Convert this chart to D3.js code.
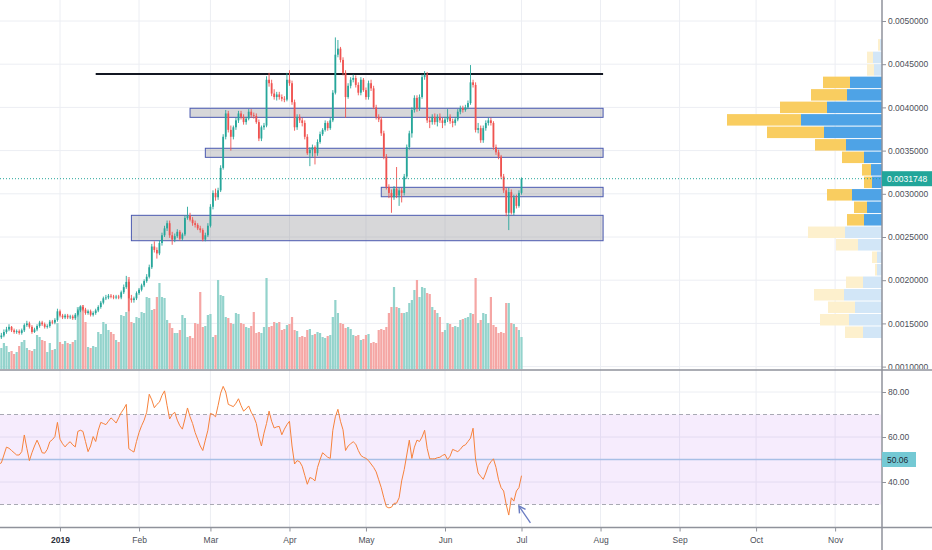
<!DOCTYPE html>
<html>
<head>
<meta charset="utf-8">
<style>
  body { margin: 0; background: #fff; }
  text { font-family: "Liberation Sans", Arial, sans-serif; }
</style>
</head>
<body>
<svg id="chart" width="932" height="550"></svg>
<script src="https://cdn.jsdelivr.net/npm/d3@7"></script>
<script>
// daily candles from 8 Dec 2018, prices in units of 0.0001
const startDate = new Date(2018, 11, 8);

const opens = [
  13.3, 13.4, 13.6, 14.0, 14.3, 14.6, 14.2, 14.0, 14.1, 13.9,
  14.2, 14.8, 15.0, 14.6, 14.0, 14.3, 14.7, 15.1, 14.9, 14.6,
  14.7, 15.2, 15.1, 15.4, 16.4, 15.9, 15.7, 15.9, 15.7, 15.8,
  15.6, 16.0, 16.5, 16.9, 16.6, 16.2, 16.4, 16.0, 16.2, 16.5,
  16.9, 17.4, 17.9, 18.0, 18.2, 18.1, 18.0, 18.1, 18.0, 18.6,
  19.2, 19.8, 17.9, 17.7, 17.9, 18.5, 18.9, 19.4, 19.9, 20.4,
  21.5, 23.9, 23.5, 23.1, 24.3, 25.2, 26.0, 26.6, 25.2, 24.7,
  25.1, 25.6, 24.8, 25.3, 27.2, 27.5, 27.0, 26.6, 26.4, 26.0,
  25.8, 24.7, 25.2, 26.3, 28.5, 30.1, 29.6, 30.4, 33.0, 36.6,
  39.3, 37.4, 36.6, 37.7, 38.5, 39.3, 38.9, 38.3, 38.7, 39.5,
  39.1, 39.0, 38.3, 36.4, 37.7, 37.9, 43.2, 42.8, 41.6, 41.2,
  41.5, 41.2, 41.0, 40.9, 43.2, 42.8, 40.6, 37.7, 38.9, 38.5,
  38.2, 36.6, 34.7, 35.1, 35.4, 34.7, 36.0, 36.9, 37.4, 38.2,
  37.6, 38.5, 41.7, 46.1, 46.8, 45.5, 44.0, 41.2, 42.5, 43.2,
  43.4, 42.6, 41.7, 43.2, 42.0, 41.2, 42.8, 42.2, 40.0, 38.9,
  38.6, 37.0, 34.3, 30.8, 30.1, 29.6, 30.6, 29.8, 30.4, 30.1,
  32.0, 35.4, 37.0, 39.7, 41.1, 39.9, 41.2, 43.5, 43.8, 38.5,
  38.3, 38.9, 38.3, 38.9, 38.5, 38.2, 38.6, 38.9, 38.4, 38.2,
  38.6, 39.5, 39.9, 39.7, 40.0, 40.5, 42.9, 42.6, 37.4, 37.6,
  36.2, 37.6, 38.2, 38.5, 38.2, 35.4, 34.8, 34.3, 32.0, 30.4,
  27.8, 30.2, 27.8, 29.6, 28.6, 30.1
];
const highs = [
  13.8, 13.9, 14.3, 14.6, 14.9, 14.7, 14.4, 14.3, 14.3, 14.4,
  15.0, 15.3, 15.2, 14.8, 14.5, 14.9, 15.3, 15.3, 15.1, 14.9,
  15.4, 15.4, 15.6, 16.7, 16.6, 16.1, 16.1, 16.1, 16.0, 16.0,
  16.2, 16.7, 17.1, 17.1, 16.8, 16.6, 16.6, 16.4, 16.7, 17.1,
  17.6, 18.1, 18.3, 18.4, 18.4, 18.3, 18.3, 18.3, 18.8, 19.5,
  20.5, 20.1, 18.3, 18.1, 18.7, 19.1, 19.6, 20.1, 20.7, 21.8,
  24.2, 24.5, 23.8, 24.6, 25.5, 26.3, 26.9, 26.9, 25.6, 25.4,
  25.9, 25.8, 25.5, 27.5, 28.5, 27.8, 27.3, 26.9, 26.6, 26.3,
  26.0, 25.5, 26.6, 28.8, 30.4, 30.6, 30.7, 33.3, 36.9, 39.7,
  39.6, 37.9, 37.9, 38.8, 39.6, 39.6, 39.2, 38.9, 39.8, 39.8,
  39.4, 39.3, 38.6, 37.9, 38.2, 43.6, 44.0, 43.2, 42.1, 41.8,
  41.8, 41.5, 41.3, 44.0, 44.3, 43.1, 40.9, 39.2, 39.2, 38.8,
  38.5, 36.9, 35.4, 35.7, 35.6, 36.3, 37.2, 37.6, 38.5, 38.4,
  38.8, 42.0, 48.1, 47.8, 47.0, 45.8, 44.3, 42.8, 43.5, 43.8,
  43.7, 42.9, 43.5, 43.4, 42.3, 43.1, 43.2, 42.5, 40.3, 39.2,
  38.9, 37.3, 34.6, 31.1, 30.5, 30.9, 33.1, 30.7, 30.7, 32.3,
  35.7, 37.3, 40.0, 41.4, 41.4, 41.5, 43.8, 44.2, 44.1, 38.9,
  39.2, 39.3, 39.2, 39.3, 38.8, 38.9, 39.8, 39.2, 38.7, 38.9,
  39.8, 40.2, 40.2, 40.3, 40.8, 44.9, 43.2, 42.9, 38.2, 37.9,
  37.9, 38.5, 38.8, 38.8, 38.4, 35.7, 35.1, 34.5, 32.3, 30.7,
  30.7, 30.5, 29.9, 29.9, 30.4, 31.9
];
const lows = [
  13.1, 13.2, 13.4, 13.8, 14.1, 14.0, 13.8, 13.8, 13.7, 13.7,
  14.0, 14.6, 14.4, 13.8, 13.9, 14.1, 14.5, 14.7, 14.4, 14.4,
  14.5, 14.9, 14.9, 15.2, 15.7, 15.5, 15.5, 15.5, 15.5, 15.4,
  15.4, 15.8, 16.3, 16.4, 16.0, 16.0, 15.8, 15.8, 16.0, 16.3,
  16.7, 17.2, 17.7, 17.8, 17.9, 17.8, 17.8, 17.8, 17.8, 18.4,
  19.0, 16.4, 17.4, 17.4, 17.7, 18.3, 18.7, 19.2, 19.7, 20.2,
  21.3, 23.2, 22.5, 22.9, 24.0, 25.0, 25.7, 24.9, 24.1, 24.4,
  24.9, 24.6, 24.6, 25.1, 27.0, 26.8, 26.3, 26.1, 25.8, 25.5,
  24.5, 24.5, 25.0, 26.1, 28.2, 29.2, 29.3, 30.2, 32.8, 36.3,
  37.1, 35.0, 36.3, 37.4, 38.2, 38.6, 38.0, 38.0, 38.5, 38.8,
  38.7, 38.1, 36.1, 36.1, 37.4, 37.7, 42.4, 41.3, 40.9, 40.8,
  40.9, 40.7, 40.6, 40.7, 42.5, 40.3, 37.3, 37.4, 38.2, 37.8,
  36.3, 34.5, 33.2, 34.3, 33.4, 34.4, 35.8, 36.7, 37.2, 37.3,
  37.4, 38.3, 41.5, 45.8, 45.2, 43.7, 38.8, 41.0, 42.2, 42.9,
  42.3, 41.4, 41.4, 41.8, 40.9, 40.9, 41.9, 39.8, 38.6, 38.3,
  36.7, 34.0, 30.5, 29.5, 27.8, 29.3, 29.5, 28.6, 29.0, 29.8,
  31.7, 35.1, 36.5, 39.4, 39.5, 39.6, 41.0, 43.2, 38.2, 37.6,
  38.0, 38.0, 37.8, 38.2, 37.6, 37.9, 38.3, 38.1, 37.7, 37.9,
  38.4, 39.2, 39.4, 39.5, 39.8, 40.3, 42.3, 37.1, 37.0, 35.9,
  35.9, 37.3, 37.9, 37.9, 35.1, 34.5, 34.0, 31.7, 30.1, 27.4,
  25.8, 27.6, 27.5, 28.3, 28.4, 29.9
];
const closes = [
  13.4, 13.6, 14.0, 14.3, 14.6, 14.2, 14.0, 14.1, 13.9, 14.2,
  14.8, 15.0, 14.6, 14.0, 14.3, 14.7, 15.1, 14.9, 14.6, 14.7,
  15.2, 15.1, 15.4, 16.4, 15.9, 15.7, 15.9, 15.7, 15.8, 15.6,
  16.0, 16.5, 16.9, 16.6, 16.2, 16.4, 16.0, 16.2, 16.5, 16.9,
  17.4, 17.9, 18.0, 18.2, 18.1, 18.0, 18.1, 18.0, 18.6, 19.2,
  19.8, 17.9, 17.7, 17.9, 18.5, 18.9, 19.4, 19.9, 20.4, 21.5,
  23.9, 23.5, 23.1, 24.3, 25.2, 26.0, 26.6, 25.2, 24.7, 25.1,
  25.6, 24.8, 25.3, 27.2, 27.5, 27.0, 26.6, 26.4, 26.0, 25.8,
  24.7, 25.2, 26.3, 28.5, 30.1, 29.6, 30.4, 33.0, 36.6, 39.3,
  37.4, 36.6, 37.7, 38.5, 39.3, 38.9, 38.3, 38.7, 39.5, 39.1,
  39.0, 38.3, 36.4, 37.7, 37.9, 43.2, 42.8, 41.6, 41.2, 41.5,
  41.2, 41.0, 40.9, 43.2, 42.8, 40.6, 37.7, 38.9, 38.5, 38.2,
  36.6, 34.7, 35.1, 35.4, 34.7, 36.0, 36.9, 37.4, 38.2, 37.6,
  38.5, 41.7, 46.1, 46.8, 45.5, 44.0, 41.2, 42.5, 43.2, 43.4,
  42.6, 41.7, 43.2, 42.0, 41.2, 42.8, 42.2, 40.0, 38.9, 38.6,
  37.0, 34.3, 30.8, 30.1, 29.6, 30.6, 29.8, 30.4, 30.1, 32.0,
  35.4, 37.0, 39.7, 41.1, 39.9, 41.2, 43.5, 43.8, 38.5, 38.3,
  38.9, 38.3, 38.9, 38.5, 38.2, 38.6, 38.9, 38.4, 38.2, 38.6,
  39.5, 39.9, 39.7, 40.0, 40.5, 42.9, 42.6, 37.4, 37.6, 36.2,
  37.6, 38.2, 38.5, 38.2, 35.4, 34.8, 34.3, 32.0, 30.4, 27.8,
  30.2, 27.8, 29.6, 28.6, 30.1, 31.748
];
const volumes = [
  20, 22, 27, 24, 18, 19, 16, 18, 24, 28,
  30, 22, 20, 19, 21, 35, 33, 30, 29, 18,
  27, 20, 21, 47, 28, 26, 29, 27, 26, 28,
  30, 63, 64, 65, 48, 23, 22, 24, 23, 38,
  36, 48, 46, 40, 38, 36, 30, 28, 55, 54,
  58, 93, 48, 47, 53, 52, 58, 57, 73, 72,
  60, 61, 73, 87, 73, 72, 50, 47, 42, 37,
  37, 40, 55, 52, 33, 34, 32, 47, 46, 78,
  43, 44, 55, 56, 33, 35, 90, 75, 74, 53,
  52, 47, 46, 57, 56, 47, 46, 43, 42, 44,
  58, 37, 38, 37, 43, 92, 43, 44, 48, 47,
  48, 40, 41, 45, 46, 53, 40, 39, 33, 34,
  33, 40, 41, 35, 36, 38, 37, 33, 32, 34,
  35, 53, 70, 57, 47, 46, 42, 43, 41, 35,
  34, 35, 30, 31, 35, 36, 27, 28, 27, 40,
  41, 40, 43, 57, 63, 83, 63, 62, 57, 57,
  58, 67, 70, 80, 90, 73, 83, 82, 77, 76,
  63, 60, 57, 53, 38, 40, 47, 46, 43, 44,
  43, 50, 51, 52, 53, 57, 56, 92, 47, 50,
  57, 56, 47, 73, 45, 43, 37, 38, 37, 67,
  67, 47, 46, 43, 40, 33
];
const rsi = [
  48, 48.5, 52, 55.5, 55, 54, 53, 52, 52, 53.5,
  60.9, 55, 49.5, 53, 56, 58.6, 56, 53, 52.8, 54.5,
  57.9, 58.8, 60.2, 66.5, 59, 57, 55.6, 57, 57.9, 56.5,
  55.6, 62.5, 63, 62.5, 58, 53.5, 56, 60.2, 58, 63,
  66.5, 66, 65.5, 67, 68.5, 67.5, 66.2, 68.5, 70.8, 72.5,
  74.5, 54.8, 54, 53.3, 58, 62, 65, 67.5, 71, 79,
  76.5, 73, 74.5, 75.5, 78.5, 80.5, 74, 68, 70, 71,
  67.5, 65, 63.5, 68, 72.9, 69, 66, 62, 59, 56,
  54, 58.6, 63, 70.5, 70, 69, 74, 79.5, 82.5, 80,
  74.5, 74, 73.5, 75, 77, 74, 71.5, 72.5, 73.8, 71,
  69, 66, 60, 56, 61.7, 66, 71.5, 67, 64, 64.5,
  64.7, 61, 63.5, 65.5, 67, 56, 48, 49.5, 49, 47,
  43, 39, 42, 41.5, 40.5, 46.5, 50, 53, 52, 51,
  50.5, 63, 69, 72.3, 67, 63.2, 54, 56, 57, 57.9,
  56.8, 54, 51.8, 51, 50.5, 49.5, 48, 46.5, 44.5, 41,
  37.5, 33, 29, 28.5, 28.8, 30.5, 30.6, 33, 40.5, 45.5,
  52, 58.6, 50.5, 55.5, 58.6, 58, 60, 63, 55, 50.3,
  50.3, 50.3, 50.8, 51, 51.8, 52.3, 50, 51.5, 54.5, 54,
  53.5, 54.5, 56, 56.5, 58, 59.5, 63.9, 50, 44, 42.5,
  41.2, 44, 47.3, 49, 50.3, 46.5, 41, 37.5, 36, 30,
  25.3, 33, 31.5, 36, 37.5, 42.8
];

// drawn support / resistance zones (prices in 0.0001)
const zoneStart = ["2019-02-21", "2019-02-27", "2019-05-07", "2019-01-29"];
const zoneEnd = ["2019-08-02", "2019-08-02", "2019-08-02", "2019-08-02"];
const zoneTop = [39.9, 35.27, 30.75, 27.51];
const zoneBottom = [38.85, 34.22, 29.66, 24.57];
const resistStart = "2019-01-15", resistEnd = "2019-08-02", resistPrice = 43.87;
const lastPrice = 31.748;

// visible range volume profile, top row first
const profileTop = 47.9, profileStep = 1.446;
const profileBuy = [2, 9, 8, 32, 35, 55, 81, 58, 36, 18, 11, 10, 30, 15, 18, 37, 24, 5, 5, 19, 38, 27, 33, 19];
const profileSell = [2, 6, 7, 27, 36, 47, 74, 57, 31, 22, 9, 8, 25, 13, 17, 37, 22, 5, 2, 17, 30, 27, 29, 18];
const valueArea = [3, 14];

const priceTicks = [10, 15, 20, 25, 30, 35, 40, 45, 50];
const rsiTicks = [40, 60, 80];
const rsiLast = "50.06";
const monthLabels = ["2019", "Feb", "Mar", "Apr", "May", "Jun", "Jul", "Aug", "Sep", "Oct", "Nov"];
const monthDates = monthLabels.map((m, i) => new Date(2019, i, 1));

const svg = d3.select("#chart");
const plotRight = 882;
const parse = d3.timeParse("%Y-%m-%d");

const x = d3.scaleTime().domain([new Date(2019, 0, 1), new Date(2019, 6, 1)]).range([60, 521.5]);
const y = d3.scaleLinear().domain([10, 50]).range([366.6, 21]);
const yVol = d3.scaleLinear().domain([0, 100]).range([370, 270]);
const yRsi = d3.scaleLinear().domain([30, 70]).range([504.5, 414.5]);
const wProf = d3.scaleLinear().domain([0, 100]).range([0, 100]);

const dates = closes.map((c, i) => d3.timeDay.offset(startDate, i));
const candles = closes.map((c, i) => ({ d: dates[i], o: opens[i], h: highs[i], l: lows[i], c: c, v: volumes[i] }));

const UP = "#26a69a", DOWN = "#ef5350";

let defs = svg.append("defs");
defs.append("clipPath").attr("id", "pricePane")
  .append("rect").attr("x", 0).attr("y", 0).attr("width", plotRight).attr("height", 369);
defs.append("clipPath").attr("id", "priceAxis")
  .append("rect").attr("x", plotRight).attr("y", 0).attr("width", 50).attr("height", 369);

// grid
let grid = svg.append("g")
grid.selectAll("line.v").data(monthDates).enter().append("line")
  .attr("x1", d => x(d)).attr("x2", d => x(d)).attr("y1", 0).attr("y2", 527)
  .attr("stroke", "#eceef3");
grid.selectAll("line.h").data(priceTicks).enter().append("line")
  .attr("x1", 0).attr("x2", plotRight).attr("y1", d => y(d)).attr("y2", d => y(d))
  .attr("stroke", "#eceef3");

let price = svg.append("g").attr("clip-path", "url(#pricePane)");

// zones behind candles
price.selectAll("rect.zone").data(zoneTop).enter().append("rect")
  .attr("x", (d, i) => x(parse(zoneStart[i])))
  .attr("width", (d, i) => x(parse(zoneEnd[i])) - x(parse(zoneStart[i])))
  .attr("y", d => y(d))
  .attr("height", (d, i) => y(zoneBottom[i]) - y(d))
  .attr("fill", "rgba(150,150,155,0.38)")
  .attr("stroke", "#4a59b0").attr("stroke-width", 1);

// volume bars
price.selectAll("rect.vol").data(candles).enter().append("rect")
  .attr("x", d => x(d.d) - 1.1).attr("width", 2.2)
  .attr("y", d => yVol(d.v)).attr("height", d => yVol(0) - yVol(d.v))
  .attr("fill", d => d.c >= d.o ? "#93d3cc" : "#f5a6a4");

// volume profile
const rows = profileBuy.map((b, r) => ({ b: b, s: profileSell[r], top: profileTop - r * profileStep, va: r >= valueArea[0] && r <= valueArea[1] }));
let prof = price.append("g");
prof.selectAll("rect.buy").data(rows).enter().append("rect")
  .attr("x", d => plotRight - wProf(d.b)).attr("width", d => wProf(d.b))
  .attr("y", d => y(d.top)).attr("height", d => y(d.top - profileStep) - y(d.top) - 1)
  .attr("fill", d => d.va ? "#4ea3e6" : "#d2e6f7");
prof.selectAll("rect.sell").data(rows).enter().append("rect")
  .attr("x", d => plotRight - wProf(d.b) - wProf(d.s)).attr("width", d => wProf(d.s))
  .attr("y", d => y(d.top)).attr("height", d => y(d.top - profileStep) - y(d.top) - 1)
  .attr("fill", d => d.va ? "#f9cd60" : "#fdf0cd");

// resistance line
price.append("line")
  .attr("x1", x(parse(resistStart))).attr("x2", x(parse(resistEnd)))
  .attr("y1", y(resistPrice)).attr("y2", y(resistPrice))
  .attr("stroke", "#131722").attr("stroke-width", 2);

// candles
let cg = price.append("g");
cg.selectAll("line").data(candles).enter().append("line")
  .attr("x1", d => x(d.d)).attr("x2", d => x(d.d))
  .attr("y1", d => y(d.h)).attr("y2", d => y(d.l))
  .attr("stroke", d => d.c >= d.o ? UP : DOWN).attr("stroke-width", 0.9);
cg.selectAll("rect").data(candles).enter().append("rect")
  .attr("x", d => x(d.d) - 0.9).attr("width", 1.8)
  .attr("y", d => y(Math.max(d.o, d.c)))
  .attr("height", d => Math.max(0.8, Math.abs(y(d.o) - y(d.c))))
  .attr("fill", d => d.c >= d.o ? UP : DOWN);

// last price line
svg.append("line")
  .attr("x1", 0).attr("x2", plotRight).attr("y1", y(lastPrice)).attr("y2", y(lastPrice))
  .attr("stroke", UP).attr("stroke-width", 1).attr("stroke-dasharray", "1,2");

// RSI pane
let rsiG = svg.append("g");
rsiG.selectAll("line.g").data(rsiTicks).enter().append("line")
  .attr("x1", 0).attr("x2", plotRight).attr("y1", d => yRsi(d)).attr("y2", d => yRsi(d))
  .attr("stroke", "#eceef3");
rsiG.append("rect")
  .attr("x", 0).attr("width", plotRight - 1)
  .attr("y", yRsi(70)).attr("height", yRsi(30) - yRsi(70))
  .attr("fill", "rgba(156,39,236,0.09)");
rsiG.selectAll("line.b").data([70, 30]).enter().append("line")
  .attr("x1", 0).attr("x2", plotRight).attr("y1", d => yRsi(d)).attr("y2", d => yRsi(d))
  .attr("stroke", "#a8a9b3").attr("stroke-dasharray", "4,3");
rsiG.append("line")
  .attr("x1", 0).attr("x2", plotRight).attr("y1", yRsi(50)).attr("y2", yRsi(50))
  .attr("stroke", "#a7bfe6").attr("stroke-width", 1.5);
rsiG.append("path").datum(rsi)
  .attr("d", d3.line().x((d, i) => x(dates[i])).y(d => yRsi(d)))
  .attr("fill", "none").attr("stroke", "#f7823c").attr("stroke-width", 1);

// arrow annotation
const arrowTip = [new Date(2019, 5, 30), 29.3], arrowTail = [new Date(2019, 6, 4, 12), 21.8];
defs.append("marker").attr("id", "ah")
  .attr("viewBox", "0 0 10 10").attr("refX", 8).attr("refY", 5)
  .attr("markerWidth", 7).attr("markerHeight", 7).attr("orient", "auto")
  .append("path").attr("d", "M1,1 L8,5 L1,9").attr("fill", "none").attr("stroke", "#6a7cc2").attr("stroke-width", 1.6);
svg.append("line")
  .attr("x1", x(arrowTail[0])).attr("y1", yRsi(arrowTail[1]))
  .attr("x2", x(arrowTip[0])).attr("y2", yRsi(arrowTip[1]))
  .attr("stroke", "#6a7cc2").attr("stroke-width", 1.3).attr("marker-end", "url(#ah)");

function styleAxis(g) {
  g.select(".domain").remove();
  g.selectAll(".tick line").attr("stroke", "#8f929b");
  g.selectAll(".tick text").attr("fill", "#4c4f59").style("font-size", "8.5px")
    .style("font-family", "'Liberation Sans', Arial, sans-serif");
}

svg.append("g").attr("clip-path", "url(#priceAxis)")
  .append("g").attr("transform", `translate(${plotRight},0)`)
  .call(d3.axisRight(y).tickValues(priceTicks).tickFormat(d => (d / 1e4).toFixed(7)).tickSize(4).tickPadding(2))
  .call(styleAxis);
svg.append("g").attr("transform", `translate(${plotRight},0)`)
  .call(d3.axisRight(yRsi).tickValues(rsiTicks).tickFormat(d => d.toFixed(2)).tickSize(4).tickPadding(2))
  .call(styleAxis);
let xAxis = svg.append("g").attr("transform", "translate(0,527.5)")
  .call(d3.axisBottom(x).tickValues(monthDates).tickFormat((d, i) => monthLabels[i]).tickSize(4).tickPadding(5))
  .call(styleAxis);
xAxis.selectAll(".tick text").filter((d, i) => i === 0).style("font-weight", "bold").attr("fill", "#2a2e39");

// pane borders
svg.append("line").attr("x1", 0).attr("x2", 932).attr("y1", 370).attr("y2", 370)
  .attr("stroke", "#8f929b").attr("stroke-width", 1.5);
svg.append("line").attr("x1", 0).attr("x2", 932).attr("y1", 527.5).attr("y2", 527.5)
  .attr("stroke", "#8f929b").attr("stroke-width", 1.5);
svg.append("line").attr("x1", plotRight).attr("x2", plotRight).attr("y1", 0).attr("y2", 550)
  .attr("stroke", "#8f929b").attr("stroke-width", 1.5);

// value labels on the axis
svg.append("rect").attr("x", plotRight).attr("y", y(lastPrice) - 7.5).attr("width", 50).attr("height", 15)
  .attr("fill", "#22a69a");
svg.append("text").attr("x", plotRight + 5).attr("y", y(lastPrice) + 3)
  .attr("fill", "#fff").style("font-size", "8.5px").text((lastPrice / 1e4).toFixed(7));
svg.append("rect").attr("x", plotRight).attr("y", yRsi(50) - 7.5).attr("width", 34).attr("height", 15)
  .attr("fill", "#74c9d4");
svg.append("text").attr("x", plotRight + 5).attr("y", yRsi(50) + 3)
  .attr("fill", "#1f2a36").style("font-size", "8.5px").text(rsiLast);
</script>
</body>
</html>
